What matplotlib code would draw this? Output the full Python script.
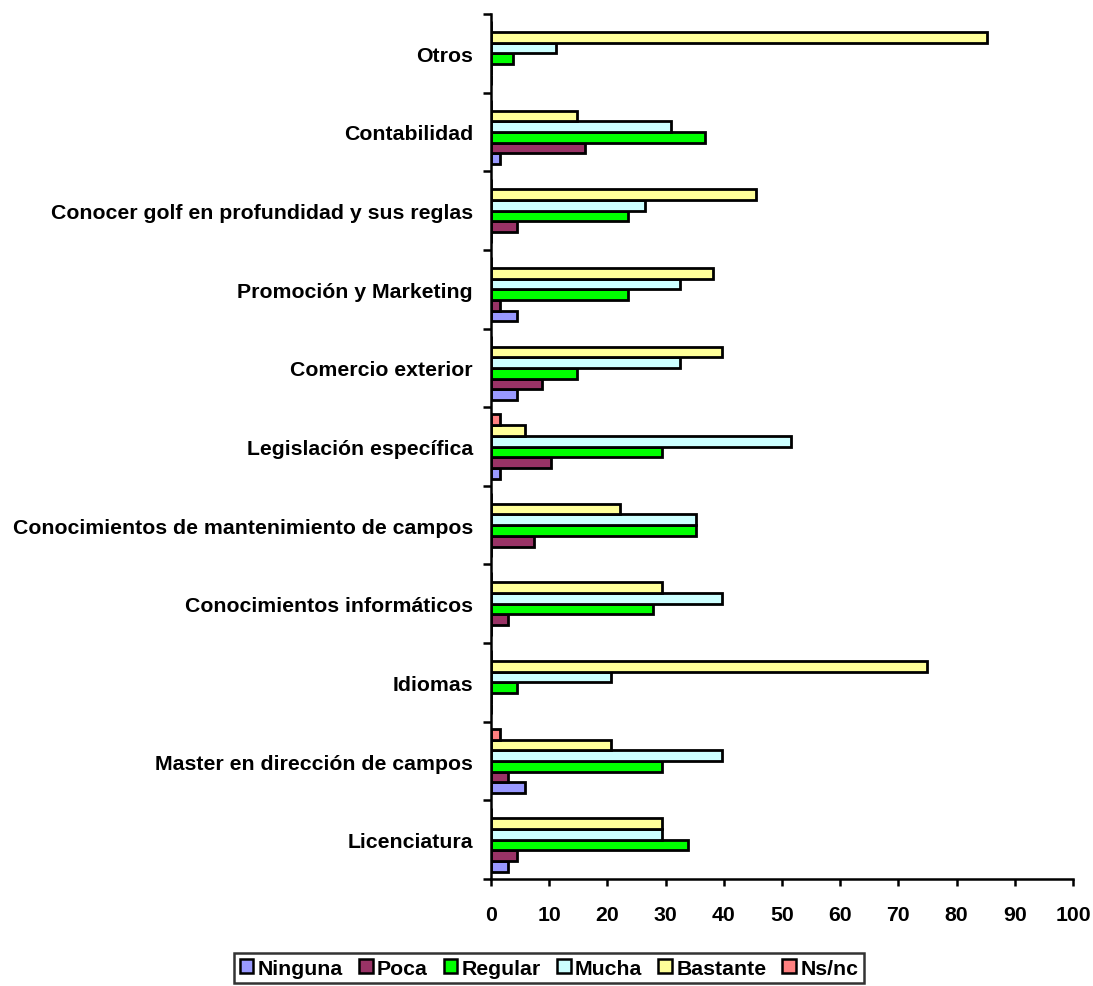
import numpy as np
import matplotlib
matplotlib.use("Agg")
import matplotlib.pyplot as plt
from matplotlib.ticker import FixedLocator, NullFormatter

plt.rcParams['font.family'] = ['Liberation Sans', 'DejaVu Sans']
plt.rcParams['font.weight'] = 'bold'

# Categories listed bottom to top
categories = [
    "Licenciatura",
    "Master en dirección de campos",
    "Idiomas",
    "Conocimientos informáticos",
    "Conocimientos de mantenimiento de campos",
    "Legislación específica",
    "Comercio exterior",
    "Promoción y Marketing",
    "Conocer golf en profundidad y sus reglas",
    "Contabilidad",
    "Otros",
]

series_names = ["Ninguna", "Poca", "Regular", "Mucha", "Bastante", "Ns/nc"]

ninguna  = [2.9, 5.9, 0.0, 0.0, 0.0, 1.5, 4.4, 4.4, 0.0, 1.5, 0.0]
poca     = [4.4, 2.9, 0.0, 2.9, 7.4, 10.3, 8.8, 1.5, 4.4, 16.2, 0.0]
regular  = [33.8, 29.4, 4.4, 27.9, 35.3, 29.4, 14.7, 23.5, 23.5, 36.8, 3.7]
mucha    = [29.4, 39.7, 20.6, 39.7, 35.3, 51.5, 32.4, 32.4, 26.5, 30.9, 11.1]
bastante = [29.4, 20.6, 75.0, 29.4, 22.1, 5.9, 39.7, 38.2, 45.6, 14.7, 85.2]
nsnc     = [0.0, 1.5, 0.0, 0.0, 0.0, 1.5, 0.0, 0.0, 0.0, 0.0, 0.0]

colors = ["#9999FF", "#993366", "#00FF00", "#CCFFFF", "#FFFF99", "#FF8080"]

x_ticks = list(range(0, 101, 10))

series = [ninguna, poca, regular, mucha, bastante, nsnc]

FS = 15.3

fig = plt.figure(figsize=(10.93, 9.87), dpi=100)
ax = fig.add_axes([0.4492, 0.1084, 0.5325, 0.8764])

y = np.arange(len(categories))
h = 0.1358
for i, (vals, name, col) in enumerate(zip(series, series_names, colors)):
    ax.barh(y + (i - 2.5) * h, vals, height=h, color=col,
            edgecolor="black", linewidth=2.0, label=name, zorder=2)

ax.set_xlim(0, 100)
ax.set_ylim(-0.5, len(categories) - 0.5)

ax.spines['top'].set_visible(False)
ax.spines['right'].set_visible(False)
for s in ('left', 'bottom'):
    ax.spines[s].set_linewidth(1.8)
    ax.spines[s].set_color('black')

ax.set_xticks(x_ticks)
ax.set_xticklabels([str(t) for t in x_ticks], fontsize=FS, fontweight='bold')
ax.tick_params(axis='x', direction='out', length=5, width=1.8, pad=14)

ax.set_yticks(y)
ax.set_yticklabels(categories, fontsize=FS, fontweight='bold')
ax.tick_params(axis='y', which='major', length=0, pad=13)
ax.yaxis.set_minor_locator(FixedLocator(np.arange(-0.5, len(categories), 1.0)))
ax.yaxis.set_minor_formatter(NullFormatter())
ax.tick_params(axis='y', which='minor', direction='out', length=6, width=1.8)

leg = fig.legend(loc='center', bbox_to_anchor=(0.5023, 0.0182), ncol=6,
                 fontsize=FS, frameon=True, fancybox=False, shadow=False,
                 handlelength=0.65, handleheight=0.65, handletextpad=0.2,
                 columnspacing=0.75, borderpad=0.25, borderaxespad=0)
leg.get_frame().set_edgecolor('black')
leg.get_frame().set_linewidth(1.8)
for t in leg.get_texts():
    t.set_fontweight('bold')
for p in leg.get_patches():
    p.set_linewidth(1.8)

fig.savefig("out.png", dpi=100)
